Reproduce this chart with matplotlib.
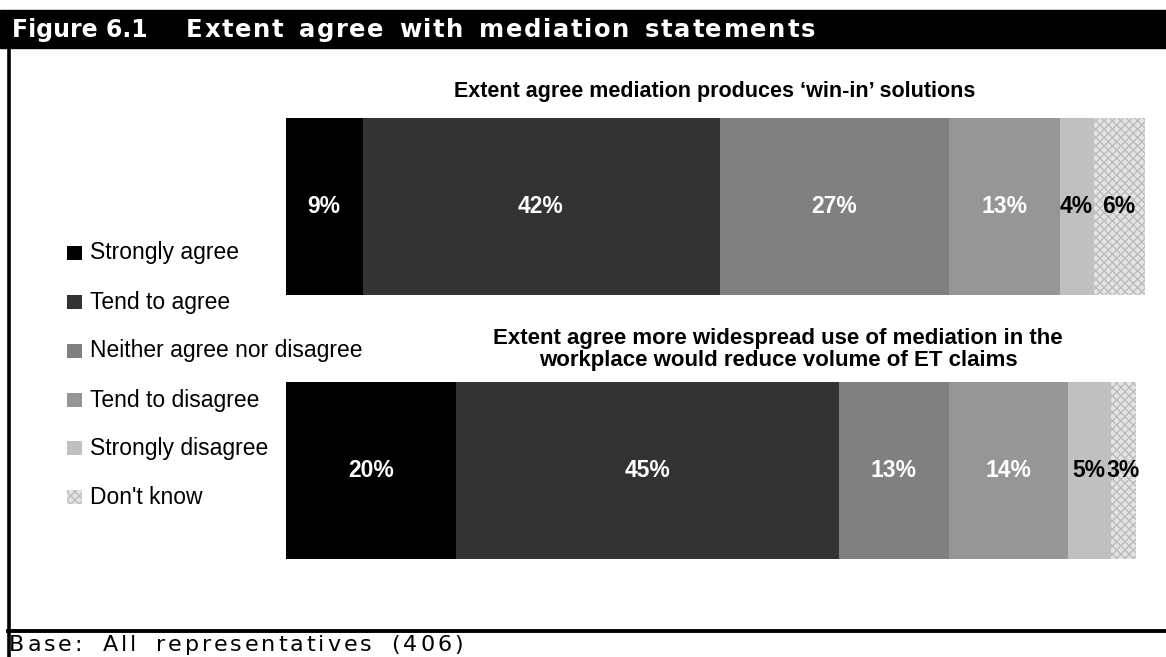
import numpy as np
import matplotlib
matplotlib.use("Agg")
import matplotlib.pyplot as plt
from matplotlib.patches import Rectangle
from matplotlib.lines import Line2D
from matplotlib import font_manager, ft2font

# ---- data -------------------------------------------------------------
categories = ["Strongly agree", "Tend to agree", "Neither agree nor disagree",
              "Tend to disagree", "Strongly disagree", "Don't know"]
statements = ["Extent agree mediation produces \u2018win-in\u2019 solutions",
              "Extent agree more widespread use of mediation in the\n"
              "workplace would reduce volume of ET claims"]
win_in = [9, 42, 27, 13, 4, 6]
et_claims = [20, 45, 13, 14, 5, 3]
series = [win_in, et_claims]

fig_title_num = "Figure 6.1"
fig_title = "Extent agree with mediation statements"
base_note = "Base: All representatives (406)"

# ---- styling ----------------------------------------------------------
W, H, DPI = 1166, 657, 100
colors = ["#000000", "#333333", "#808080", "#969696", "#c0c0c0", "#e4e4e4"]
label_colors = ["white", "white", "white", "white", "black", "black"]
SANS = "Liberation Sans"

fig = plt.figure(figsize=(W / DPI, H / DPI), dpi=DPI)
fig.patch.set_facecolor("white")


def fx(x):
    return x / W


def fy(y):
    return 1 - y / H


def spread_text(x0, x1, y, s, family, weight, size, color, space_share=0.2):
    """Draw s from x0 to x1 (pixels), widening letter and word gaps to fit."""
    path = font_manager.findfont(font_manager.FontProperties(family=family, weight=weight))
    ft = ft2font.FT2Font(path)
    ft.set_size(size, DPI)
    adv = [ft.load_char(ord(c)).linearHoriAdvance / 65536 for c in s]
    slack = x1 - x0 - sum(adv)
    n_sp = s.count(" ")
    n_gap = max(len(s) - 1, 1)
    word_extra = slack * space_share / n_sp if n_sp else 0.0
    letter_extra = slack * (1 - space_share if n_sp else 1) / n_gap
    x = x0
    for c, a in zip(s, adv):
        if c != " ":
            fig.text(fx(x), fy(y), c, family=family, weight=weight, size=size,
                     color=color, ha="left", va="baseline")
        x += a + letter_extra + (word_extra if c == " " else 0.0)


# ---- frame and header bar ---------------------------------------------
fig.patches.append(Rectangle((0, fy(47.5)), 1, (47.5 - 9.5) / H,
                             transform=fig.transFigure, color="black", zorder=0))
fig.lines.append(Line2D([fx(8.8), fx(8.8)], [fy(47), 0], transform=fig.transFigure,
                        color="black", lw=2.6))
fig.lines.append(Line2D([fx(8), 1], [fy(630.5), fy(630.5)], transform=fig.transFigure,
                        color="black", lw=2.8))

fig.text(fx(12), fy(37), fig_title_num, family="DejaVu Sans", weight="bold", size=17,
         color="white", ha="left", va="baseline")
spread_text(186, 815, 37, fig_title, "DejaVu Sans", "bold", 17.5, "white")
spread_text(9, 463, 651, base_note, "DejaVu Sans", "normal", 16, "black")

# ---- stacked bars -------------------------------------------------------
x_left, x_right = 286, 286 + 8.5 * 101
y_top, y_bot = 118, 559
ax = fig.add_axes([fx(x_left), fy(y_bot), (x_right - x_left) / W, (y_bot - y_top) / H])
bar_h = 0.669
ax.set_xlim(0, 101)
ax.set_ylim(1 + bar_h / 2, -bar_h / 2)
ax.axis("off")

for row, vals in enumerate(series):
    lefts = np.concatenate([[0], np.cumsum(vals)[:-1]])
    for i, (v, l) in enumerate(zip(vals, lefts)):
        kw = dict(color=colors[i], linewidth=0)
        if i == len(vals) - 1:
            kw = dict(facecolor=colors[i], edgecolor="#bcbcbc", hatch="xxxx", linewidth=0)
        ax.barh(row, v, left=l, height=bar_h, **kw)
        ax.text(l + v / 2, row, f"{v}%", ha="center", va="center", color=label_colors[i],
                family=SANS, weight="bold", size=16.5)

# ---- chart subtitles ------------------------------------------------------
fig.text(fx(715), fy(92), statements[0], ha="center", va="center",
         family=SANS, weight="bold", size=15.5)
fig.text(fx(778), fy(349.5), statements[1], ha="center", va="center",
         family=SANS, weight="bold", size=16, linespacing=1.08)

# ---- legend ---------------------------------------------------------------
leg_y = [253, 302, 351, 400, 448, 497]
for i, (cat, yy) in enumerate(zip(categories, leg_y)):
    kw = dict(color=colors[i], linewidth=0)
    if i == len(categories) - 1:
        kw = dict(facecolor=colors[i], edgecolor="#bcbcbc", hatch="xxxx", linewidth=0)
    fig.patches.append(Rectangle((fx(67), fy(yy + 7)), 15 / W, 14 / H,
                                 transform=fig.transFigure, **kw))
    fig.text(fx(90), fy(yy), cat, ha="left", va="center", family=SANS, size=16.5)

fig.savefig("out.png", dpi=DPI)
